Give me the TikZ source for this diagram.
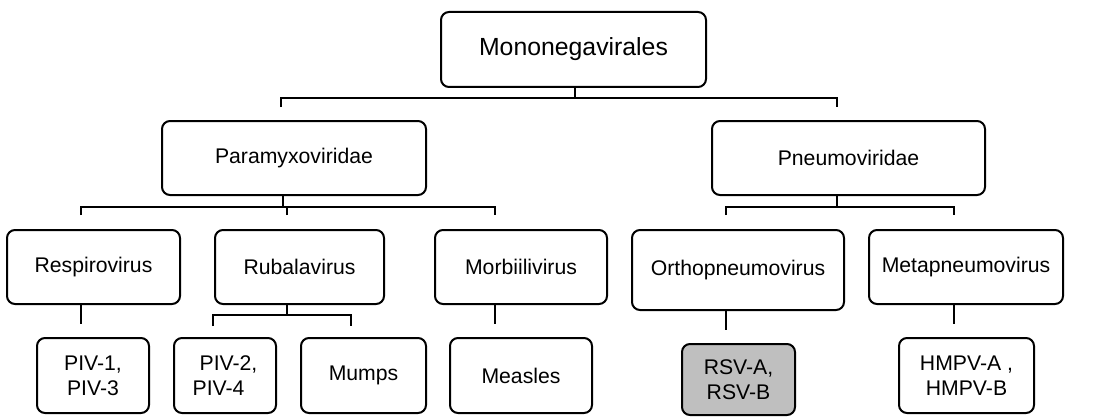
\documentclass[tikz,border=0pt]{standalone}
\usepackage{fontspec}
\setmainfont{Liberation Sans}
\usepackage{tikz}
\usetikzlibrary{positioning}
\definecolor{rsvgray}{HTML}{BFBFBF}

\begin{document}
\begin{tikzpicture}[
  x=0.5pt, y=-0.5pt,
  taxon/.style={rectangle, draw=black, fill=white, line width=1pt, rounded corners=4pt, align=center, font=\fontsize{10.6}{12.4}\selectfont, inner sep=1pt},
  hilite/.style={taxon, fill=rsvgray},
  link/.style={line width=1pt, color=black},
]
\useasboundingbox (0,0) rectangle (1095,417);

% --- order / families ---
\node[taxon, minimum width=132.5pt, minimum height=37.5pt, font=\fontsize{12.4}{14}\selectfont] (mono) at (573.5,49.5) {Mononegavirales};
\node[taxon, minimum width=132pt, minimum height=37pt] (para) at (294,158) {Paramyxoviridae};
\node[taxon, minimum width=136.5pt, minimum height=37pt] (pneumo) at (848.5,158) {Pneumoviridae};

% --- genera ---
\node[taxon, minimum width=86.5pt, minimum height=37pt] (resp) at (93.5,267) {Respirovirus};
\node[taxon, minimum width=84.5pt, minimum height=37pt] (ruba) at (299.5,267) {Rubalavirus};
\node[taxon, minimum width=86pt, minimum height=37pt] (morb) at (521,267) {Morbiilivirus};
\node[taxon, minimum width=106pt, minimum height=40pt] (ortho) at (738,270) {Orthopneumovirus};
\node[taxon, minimum width=97pt, minimum height=37pt] (meta) at (966,267) {Metapneumovirus};

% --- viruses ---
\node[taxon, minimum width=56pt, minimum height=37.5pt] (piv13) at (93,375.5) {PIV-1,\\ PIV-3};
\node[taxon, minimum width=51pt, minimum height=37.5pt, align=left] (piv24) at (225,375.5) {\hspace*{3.5pt}PIV-2,\\ PIV-4};
\node[taxon, minimum width=62.5pt, minimum height=37.5pt] (mumps) at (363.5,375.5) {Mumps};
\node[taxon, minimum width=71pt, minimum height=37.5pt] (measles) at (521,375.5) {Measles};
\node[hilite, minimum width=56.5pt, minimum height=35.5pt] (rsv) at (738.5,379.5) {RSV-A,\\ RSV-B};
\node[taxon, minimum width=67.5pt, minimum height=37.5pt] (hmpv) at (966.5,375.5) {HMPV-A ,\\ HMPV-B};

% --- junction points ---
\coordinate (mono-bus) at (575,98);
\coordinate (para-in) at (281,107);
\coordinate (pneumo-in) at (837,107);
\coordinate (para-bus) at (283,207);
\coordinate (resp-in) at (81,215);
\coordinate (ruba-in) at (287,215);
\coordinate (morb-in) at (495,215);
\coordinate (pneumo-bus) at (837,207);
\coordinate (ortho-in) at (726,215);
\coordinate (meta-in) at (954,215);
\coordinate (piv13-in) at (81,324);
\coordinate (ruba-bus) at (287,315);
\coordinate (piv24-in) at (213,326);
\coordinate (mumps-in) at (351,326);
\coordinate (measles-in) at (495,324);
\coordinate (rsv-in) at (726,330);
\coordinate (hmpv-in) at (954,324);

% --- connectors ---
\draw[link] (mono-bus |- mono.south) -- (mono-bus);
\draw[link] (para-in) |- (pneumo-in |- mono-bus) -- (pneumo-in);

\draw[link] (para-bus |- para.south) -- (para-bus);
\draw[link] (resp-in) |- (morb-in |- para-bus) -- (morb-in);
\draw[link] (ruba-in) -- (ruba-in |- para-bus);

\draw[link] (pneumo-bus |- pneumo.south) -- (pneumo-bus);
\draw[link] (ortho-in) |- (meta-in |- pneumo-bus) -- (meta-in);

\draw[link] (piv13-in |- resp.south) -- (piv13-in);
\draw[link] (ruba-bus |- ruba.south) -- (ruba-bus);
\draw[link] (piv24-in) |- (mumps-in |- ruba-bus) -- (mumps-in);
\draw[link] (measles-in |- morb.south) -- (measles-in);
\draw[link] (rsv-in |- ortho.south) -- (rsv-in);
\draw[link] (hmpv-in |- meta.south) -- (hmpv-in);
\end{tikzpicture}
\end{document}
